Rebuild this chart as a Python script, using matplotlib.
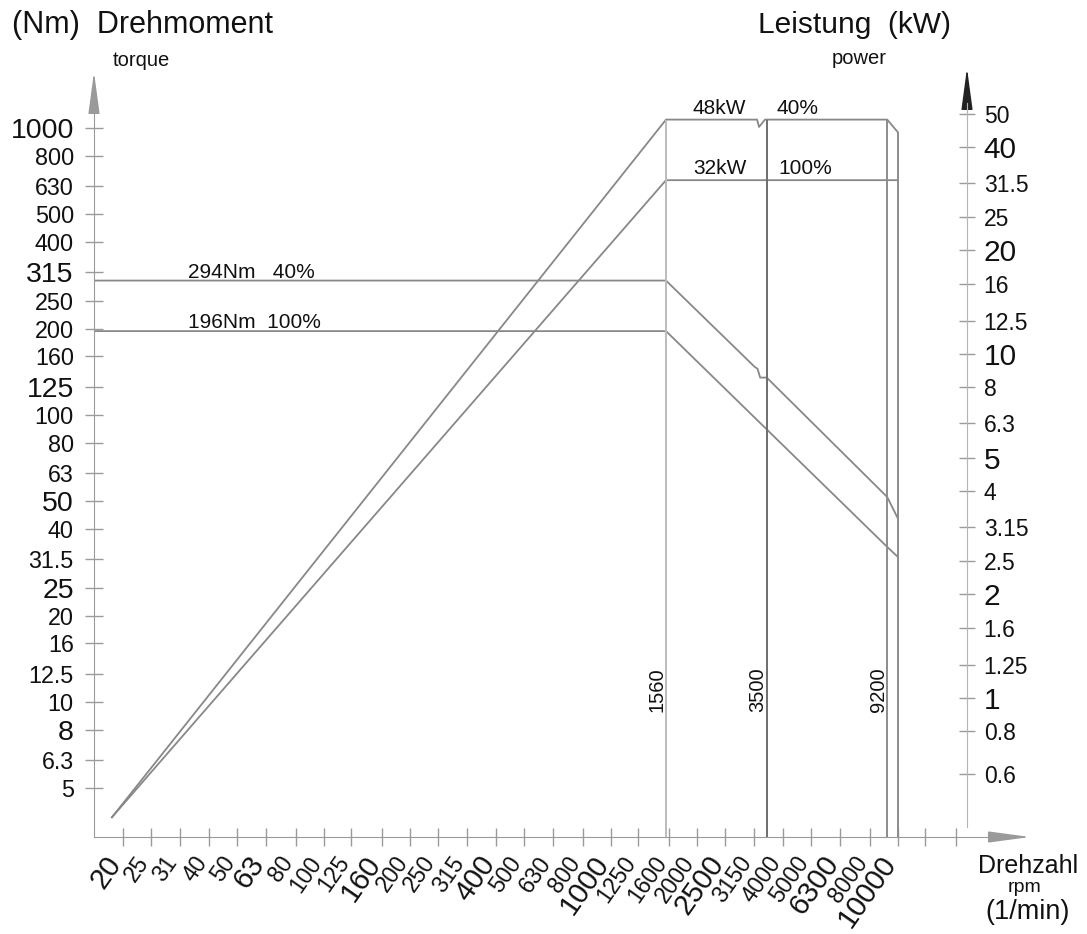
import matplotlib
matplotlib.use('Agg')
import matplotlib.pyplot as plt
from matplotlib.ticker import NullLocator
from matplotlib.transforms import ScaledTranslation

plt.rcParams['font.family'] = ['Liberation Sans', 'DejaVu Sans']

# speed axis (rpm) - R10 series
rpm_ticks = [20, 25, 31.5, 40, 50, 63, 80, 100, 125, 160, 200, 250, 315, 400, 500, 630, 800,
             1000, 1250, 1600, 2000, 2500, 3150, 4000, 5000, 6300, 8000, 10000, 12500, 16000]
rpm_labels = ['20', '25', '31', '40', '50', '63', '80', '100', '125', '160', '200', '250', '315',
              '400', '500', '630', '800', '1000', '1250', '1600', '2000', '2500', '3150', '4000',
              '5000', '6300', '8000', '10000', '', '']
rpm_big = ['20', '63', '160', '400', '1000', '2500', '6300', '10000']

# torque axis (Nm)
torque_ticks = [1000, 800, 630, 500, 400, 315, 250, 200, 160, 125, 100, 80, 63, 50, 40, 31.5,
                25, 20, 16, 12.5, 10, 8, 6.3, 5]
torque_labels = ['1000', '800', '630', '500', '400', '315', '250', '200', '160', '125', '100',
                 '80', '63', '50', '40', '31.5', '25', '20', '16', '12.5', '10', '8', '6.3', '5']
torque_big = ['1000', '315', '125', '50', '25', '8']

# power axis (kW)
power_ticks = [50, 40, 31.5, 25, 20, 16, 12.5, 10, 8, 6.3, 5, 4, 3.15, 2.5, 2, 1.6, 1.25, 1,
               0.8, 0.6]
power_labels = ['50', '40', '31.5', '25', '20', '16', '12.5', '10', '8', '6.3', '5', '4', '3.15',
                '2.5', '2', '1.6', '1.25', '1', '0.8', '0.6']
power_big = ['40', '20', '10', '5', '2', '1']

# torque curves
t40_rpm = [15.85, 1560, 3180, 3250, 3320, 3500, 9200, 10000]
t40_nm = [294, 294, 147, 145, 135, 135, 51.8, 43.8]
t100_rpm = [15.85, 1560, 9200, 10000]
t100_nm = [196, 196, 34.7, 32.1]

# power curves
p40_rpm = [18.3, 1560, 3240, 3290, 3450, 9200, 10000]
p40_kw = [0.45, 48, 48, 45.7, 48, 48, 44.2]
p100_rpm = [18.3, 1560, 10000]
p100_kw = [0.45, 32, 32]

# characteristic speeds
mark_rpm = [1560, 3500, 9200, 10000]
mark_top_kw = [48, 48, 48, 44.2]
mark_labels = ['1560', '3500', '9200', '']
mark_colors = ['#bcbcbc', '#6e6e6e', '#8c8c8c', '#8c8c8c']

X_LIM = (15.85, 28930)
T_LIM = (3.386, 1618)
P_LIM = (0.3944, 67.8)

W, H = 1087, 934
AX_GRAY = '#9a9a9a'
LINE_GRAY = '#888888'
TXT = '#111111'


def fpos(x, y):
    return x / W, 1 - y / H


def logval(lim, f):
    return lim[0] * (lim[1] / lim[0]) ** f


fig = plt.figure(figsize=(W / 100, H / 100), dpi=100)
ax = fig.add_axes([94 / W, (H - 837) / H, 936 / W, 769 / H])
ax.set_xscale('log')
ax.set_yscale('log')
ax.set_xlim(*X_LIM)
ax.set_ylim(*T_LIM)

ax2 = ax.twinx()
ax2.set_yscale('log')
ax2.set_ylim(*P_LIM)

# spines
for s in ['top', 'right']:
    ax.spines[s].set_visible(False)
for s in ['top', 'left', 'bottom']:
    ax2.spines[s].set_visible(False)
ax.spines['left'].set_color(AX_GRAY)
ax.spines['bottom'].set_color(AX_GRAY)
ax.spines['left'].set_bounds(T_LIM[0], logval(T_LIM, 0.948))
ax.spines['bottom'].set_bounds(X_LIM[0], logval(X_LIM, 0.9605))
right_pos = (967 - 94) / 936
ax2.spines['right'].set_position(('axes', right_pos))
ax2.spines['right'].set_color('#b4b4b4')
ax2.spines['right'].set_bounds(logval(P_LIM, 0.013), logval(P_LIM, 0.9545))

# ticks
ax.set_xticks(rpm_ticks, rpm_labels)
ax.set_yticks(torque_ticks, torque_labels)
ax2.set_yticks(power_ticks, power_labels)
for a in [ax.xaxis, ax.yaxis, ax2.yaxis]:
    a.set_minor_locator(NullLocator())
ax.tick_params(axis='y', direction='inout', length=13, width=1, color=AX_GRAY,
               labelcolor=TXT, pad=8)
ax.tick_params(axis='x', direction='inout', length=13, width=1, color=AX_GRAY,
               labelcolor=TXT, pad=9)
ax2.tick_params(axis='y', direction='inout', length=12, width=1, color=AX_GRAY,
                labelcolor=TXT, pad=6)

for lbl in ax.get_yticklabels():
    lbl.set_fontsize(20.5 if lbl.get_text() in torque_big else 16.8)
for lbl in ax2.get_yticklabels():
    lbl.set_fontsize(21.5 if lbl.get_text() in power_big else 16.5)
shift_left = ScaledTranslation(-7 / 100, 0, fig.dpi_scale_trans)
for lbl in ax.get_xticklabels():
    lbl.set_fontsize(21 if lbl.get_text() in rpm_big else 16.5)
    lbl.set_rotation(55)
    lbl.set_ha('right')
    lbl.set_va('center')
    lbl.set_rotation_mode('anchor')
    lbl.set_transform(lbl.get_transform() + shift_left)

# axis arrows
ax.annotate('', xy=(0, 0.9948), xytext=(0, 0.948), xycoords='axes fraction',
            arrowprops=dict(arrowstyle='-|>,head_length=2.6,head_width=0.35', shrinkA=0,
                            shrinkB=0, color=AX_GRAY, lw=1))
ax.annotate('', xy=(right_pos, 1.0), xytext=(right_pos, 0.9545), xycoords='axes fraction',
            arrowprops=dict(arrowstyle='-|>,head_length=2.6,head_width=0.35', shrinkA=0,
                            shrinkB=0, color='#222222', lw=1))
ax.annotate('', xy=(1.0, 0), xytext=(0.9605, 0), xycoords='axes fraction',
            arrowprops=dict(arrowstyle='-|>,head_length=2.6,head_width=0.35', shrinkA=0,
                            shrinkB=0, color=AX_GRAY, lw=1))

# curves
ax.plot(t40_rpm, t40_nm, color=LINE_GRAY, lw=1.3)
ax.plot(t100_rpm, t100_nm, color=LINE_GRAY, lw=1.3)
ax2.plot(p40_rpm, p40_kw, color=LINE_GRAY, lw=1.3)
ax2.plot(p100_rpm, p100_kw, color=LINE_GRAY, lw=1.3)

for n, top, lab, c in zip(mark_rpm, mark_top_kw, mark_labels, mark_colors):
    ax2.vlines(n, P_LIM[0], top, colors=c, lw=1.4)
    if lab:
        ax2.annotate(lab, xy=(n, 0.192), xycoords=('data', 'axes fraction'),
                     xytext=(-9, 0), textcoords='offset pixels', rotation=90,
                     ha='center', va='center', fontsize=14.5, color=TXT)

# curve labels
ax.annotate('294Nm   40%', xy=(33.7, t40_nm[0]), xytext=(0, 3), textcoords='offset pixels',
            ha='left', va='baseline', fontsize=15, color=TXT)
ax.annotate('196Nm  100%', xy=(33.7, t100_nm[0]), xytext=(0, 3), textcoords='offset pixels',
            ha='left', va='baseline', fontsize=15, color=TXT)
ax2.annotate('48kW', xy=(1936, p40_kw[1]), xytext=(0, 6), textcoords='offset pixels',
             ha='left', va='baseline', fontsize=15, color=TXT)
ax2.annotate('40%', xy=(3770, p40_kw[1]), xytext=(0, 6), textcoords='offset pixels',
             ha='left', va='baseline', fontsize=15, color=TXT)
ax2.annotate('32kW', xy=(1936, p100_kw[1]), xytext=(0, 6), textcoords='offset pixels',
             ha='left', va='baseline', fontsize=15, color=TXT)
ax2.annotate('100%', xy=(3830, p100_kw[1]), xytext=(0, 6), textcoords='offset pixels',
             ha='left', va='baseline', fontsize=15, color=TXT)

# axis titles
fig.text(*fpos(12, 25), '(Nm)  Drehmoment', ha='left', va='center', fontsize=22, color=TXT)
fig.text(*fpos(113, 61), 'torque', ha='left', va='center', fontsize=14.5, color=TXT)
fig.text(*fpos(758, 25), 'Leistung  (kW)', ha='left', va='center', fontsize=21.5, color=TXT)
fig.text(*fpos(832, 59), 'power', ha='left', va='center', fontsize=14.5, color=TXT)
fig.text(*fpos(978, 866), 'Drehzahl', ha='left', va='center', fontsize=18, color=TXT)
fig.text(*fpos(1008, 887), 'rpm', ha='left', va='center', fontsize=14, color=TXT)
fig.text(*fpos(985, 912), '(1/min)', ha='left', va='center', fontsize=19.5, color=TXT)

fig.savefig('out.png', dpi=100)
